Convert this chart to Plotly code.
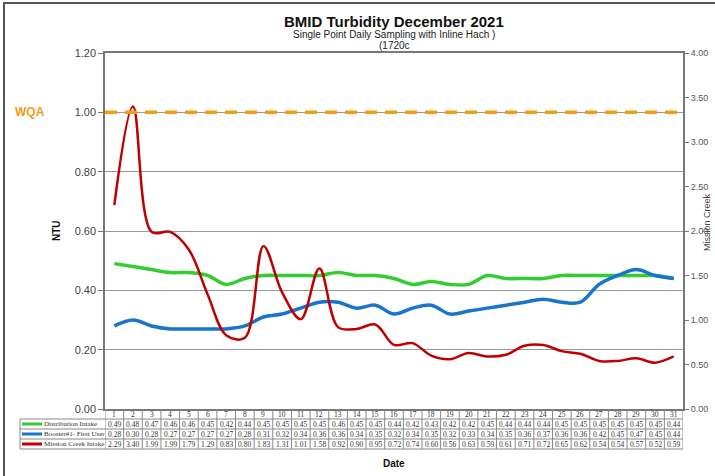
import plotly.graph_objects as go

# December 2021 daily samples
days = list(range(1, 32))
distribution_intake = [0.49, 0.48, 0.47, 0.46, 0.46, 0.45, 0.42, 0.44, 0.45, 0.45,
                       0.45, 0.45, 0.46, 0.45, 0.45, 0.44, 0.42, 0.43, 0.42, 0.42,
                       0.45, 0.44, 0.44, 0.44, 0.45, 0.45, 0.45, 0.45, 0.45, 0.45, 0.44]
booster_first_user = [0.28, 0.30, 0.28, 0.27, 0.27, 0.27, 0.27, 0.28, 0.31, 0.32,
                      0.34, 0.36, 0.36, 0.34, 0.35, 0.32, 0.34, 0.35, 0.32, 0.33,
                      0.34, 0.35, 0.36, 0.37, 0.36, 0.36, 0.42, 0.45, 0.47, 0.45, 0.44]
mission_creek_intake = [2.29, 3.40, 1.99, 1.99, 1.79, 1.29, 0.83, 0.80, 1.83, 1.31,
                        1.01, 1.58, 0.92, 0.90, 0.95, 0.72, 0.74, 0.60, 0.56, 0.63,
                        0.59, 0.61, 0.71, 0.72, 0.65, 0.62, 0.54, 0.54, 0.57, 0.52, 0.59]
wqa_limit = 1.0

series_names = ["Distribution Intake", "Booster#1- First User", "Mission Creek Intake"]
series_values = [distribution_intake, booster_first_user, mission_creek_intake]
series_colors = ["#33CC33", "#1874CD", "#C00000"]

W, H = 715, 476
PL, PR, PT, PB = 105, 683, 53, 409  # plot area in px
TL, TB = 20, 449                    # table left / bottom in px
ROW = (TB - PB) / 4
GRID = "#888"
TFONT = dict(family="Liberation Serif", size=7.5, color="#333")


def px_x(v):
    return v / W


def px_y(v):
    return (H - v) / H


fig = go.Figure()

fig.add_trace(go.Scatter(x=days, y=distribution_intake, name=series_names[0],
                         mode="lines", line=dict(color=series_colors[0], width=3.5, shape="spline", smoothing=1)))
fig.add_trace(go.Scatter(x=days, y=booster_first_user, name=series_names[1],
                         mode="lines", line=dict(color=series_colors[1], width=3.5, shape="spline", smoothing=1)))
fig.add_trace(go.Scatter(x=days, y=mission_creek_intake, name=series_names[2], yaxis="y2",
                         mode="lines", line=dict(color=series_colors[2], width=2.5, shape="spline", smoothing=1)))

# WQA limit
fig.add_shape(type="line", xref="x domain", yref="y", x0=0, x1=1, y0=wqa_limit, y1=wqa_limit,
              line=dict(color="#F59B12", width=3.5, dash="12px,8px"))

# ---- data table under the chart ----
# horizontal rules
for r in range(1, 5):
    yr = px_y(PB + ROW * r)
    fig.add_shape(type="line", xref="paper", yref="paper", x0=px_x(TL), x1=px_x(PR), y0=yr, y1=yr,
                  line=dict(color=GRID, width=1))
# vertical rules at the day boundaries
for d in days + [days[-1] + 1]:
    fig.add_shape(type="line", xref="x", yref="paper", x0=d - 0.5, x1=d - 0.5,
                  y0=px_y(TB), y1=px_y(PB), line=dict(color=GRID, width=1))
fig.add_shape(type="line", xref="paper", yref="paper", x0=px_x(TL), x1=px_x(TL),
              y0=px_y(TB), y1=px_y(PB + ROW), line=dict(color=GRID, width=1))

# header (day numbers) and values
for d in days:
    fig.add_annotation(text=str(d), x=d, y=px_y(PB + ROW * 0.5), xref="x", yref="paper",
                       showarrow=False, xanchor="center", yanchor="middle", font=TFONT)
for i, vals in enumerate(series_values):
    yc = px_y(PB + ROW * (i + 1.5))
    for d, v in zip(days, vals):
        fig.add_annotation(text="%.2f" % v, x=d, y=yc, xref="x", yref="paper",
                           showarrow=False, xanchor="center", yanchor="middle", font=TFONT)
    # legend key + series name
    fig.add_shape(type="line", xref="paper", yref="paper", x0=px_x(TL + 2), x1=px_x(TL + 22),
                  y0=yc, y1=yc, line=dict(color=series_colors[i], width=3))
    fig.add_annotation(text=series_names[i], x=px_x(TL + 22), y=yc, xref="paper", yref="paper",
                       showarrow=False, xanchor="left", yanchor="middle",
                       font=dict(TFONT, size=7))

fig.update_layout(
    autosize=True,
    margin=dict(l=0, r=0, t=0, b=0, autoexpand=False),
    paper_bgcolor="white", plot_bgcolor="white",
    showlegend=False,
    font=dict(family="Liberation Sans", color="#333"),
    xaxis=dict(domain=[px_x(PL), px_x(PR)], range=[0.5, 31.5], showticklabels=False,
               automargin=False,
               showgrid=False, zeroline=False, showline=True, mirror=True,
               linecolor="#777", linewidth=1.5, ticks=""),
    yaxis=dict(domain=[px_y(PB), px_y(PT)], range=[0, 1.2], dtick=0.2, tickformat=".2f",
               automargin=False,
               showgrid=True, gridcolor="#999", gridwidth=1, zeroline=False,
               showline=True, mirror=True, linecolor="#777", linewidth=1.5,
               ticks="outside", ticklen=5, tickcolor="#777",
               tickfont=dict(size=11, color="#444")),
    yaxis2=dict(overlaying="y", side="right", range=[0, 4], dtick=0.5, tickformat=".2f",
                automargin=False,
                showgrid=False, zeroline=False, ticks="outside", ticklen=5, tickcolor="#777",
                tickfont=dict(size=9, color="#555")),
)

ann = [
    dict(text="<b>BMID Turbidity December 2021</b>", x=394, y=22, size=15, color="#111"),
    dict(text="Single Point Daily Sampling with Inline Hach )", x=394, y=35, size=10, color="#222"),
    dict(text="(1720c", x=394, y=46, size=10, color="#222"),
    dict(text="<b>WQA</b>", x=30, y=112, size=12, color="#F59B12"),
    dict(text="<b>NTU</b>", x=56, y=231, size=10, color="#111", angle=-90),
    dict(text="Mission Creek", x=707, y=222, size=9, color="#444", angle=-90),
    dict(text="<b>Date</b>", x=394, y=463, size=10, color="#111"),
]
for a in ann:
    fig.add_annotation(text=a["text"], x=px_x(a["x"]), y=px_y(a["y"]), xref="paper", yref="paper",
                       xanchor="center", yanchor="middle", showarrow=False,
                       textangle=a.get("angle", 0),
                       font=dict(size=a["size"], color=a["color"]))

# outer chart frame
fig.add_shape(type="rect", xref="paper", yref="paper", x0=px_x(4), x1=px_x(718), y0=px_y(480), y1=px_y(3),
              line=dict(color="#555", width=2))

fig.write_html(
    "out.html",
    config={"displayModeBar": False, "responsive": True},
    default_width="100vw", default_height="100vh",
    post_script=(
        "document.documentElement.style.margin='0';"
        "document.body.style.margin='0';"
        "document.documentElement.style.overflow='hidden';"
        "document.body.style.overflow='hidden';"
        "Plotly.Plots.resize(document.getElementById('{plot_id}'));"
    ),
)
